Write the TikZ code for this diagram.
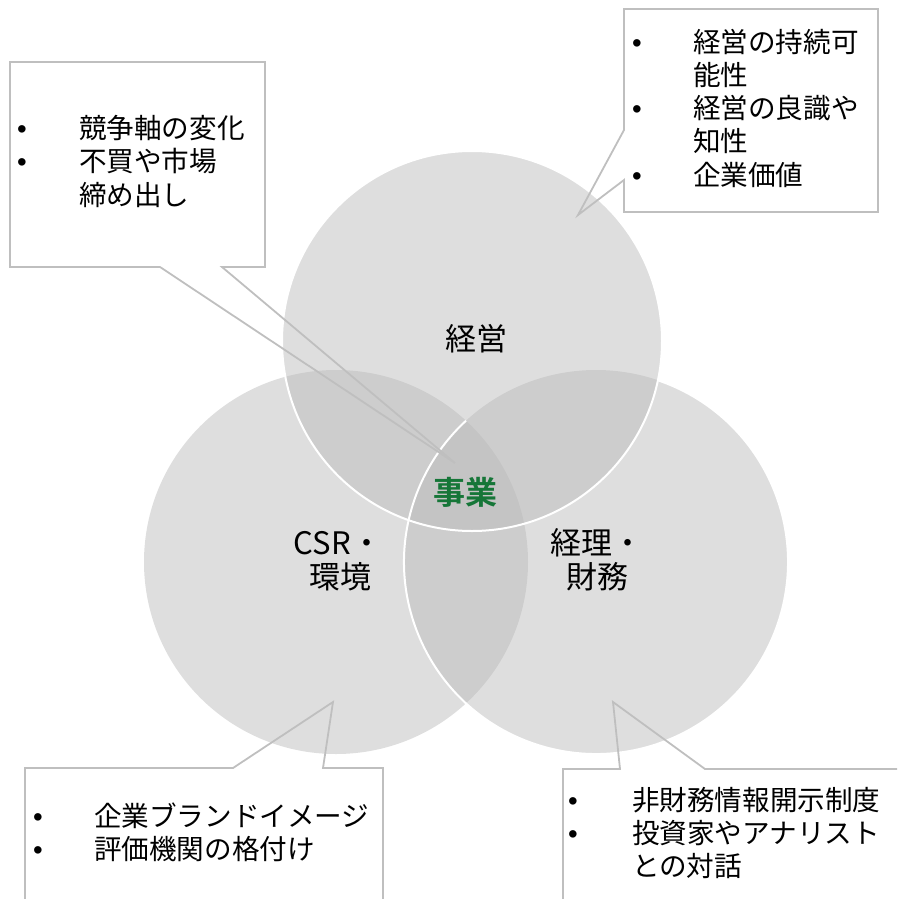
\documentclass[tikz,border=0pt]{standalone}
\usepackage{fontspec}
\setmainfont{Noto Sans CJK JP}[BoldFont=* Bold]
\newfontfamily\bulfont{Liberation Sans}
\definecolor{circfill}{RGB}{187,187,187}
\definecolor{calloutline}{RGB}{191,191,191}
\definecolor{bizgreen}{RGB}{22,118,56}
\begin{document}
\begin{tikzpicture}[x=1pt,y=-1pt,
  txt/.style={inner sep=0pt, outer sep=0pt, anchor=base west, font=\fontsize{27.6}{33}\selectfont},
  bul/.style={inner sep=0pt, outer sep=0pt, anchor=base, font=\bulfont\fontsize{27.6}{33}\selectfont},
  lbl/.style={inner sep=0pt, outer sep=0pt, anchor=base, font=\fontsize{31}{33}\selectfont},
  callout/.style={draw=calloutline, line width=1.8pt, line join=miter},
  circ/.style={fill=circfill, fill opacity=0.485},
  rim/.style={draw=white, line width=2pt}]
\useasboundingbox (0,0) rectangle (897,899);
\clip (0,0) rectangle (897,899);
% circles
\coordinate (cT) at (472,341);
\coordinate (cL) at (336,562);
\coordinate (cR) at (596,562);
\fill[circ] (cL) circle[radius=192];
\fill[circ] (cR) circle[radius=192];
\fill[circ] (cT) circle[radius=190];
\draw[rim] (cR) ++(288.8:192) arc[start angle=288.8, end angle=587.4, radius=192];
\draw[rim] (cT) circle[radius=190];
% circle labels
\node[lbl] (keiei) at (476,350.8) {経営};
\node[lbl] (csr1) at (338,554.8) {CSR・};
\node[lbl] (csr2) at (340,588.8) {環境};
\node[lbl] (keiri1) at (597,554.8) {経理・};
\node[lbl] (keiri2) at (597,588.8) {財務};
\node[lbl, font=\fontsize{32}{33}\selectfont\bfseries, text=bizgreen] (jigyo) at (465,504.7) {事業};
% callouts
\draw[callout] (10,62) -- (265,62) -- (265,267) -- (222,267) -- (455,463) -- (160,267) -- (10,267) -- cycle;
\draw[callout] (624,9) -- (878,9) -- (878,212) -- (624,212) -- (624,180) -- (578,215) -- (624,130) -- cycle;
\draw[callout] (25,910) -- (25,768) -- (233,768) -- (333,702) -- (323,768) -- (383,768) -- (383,910);
\draw[callout] (563,910) -- (563,769) -- (620,769) -- (613,702) -- (705,769) -- (910,769);
% top-left text
\node[bul] (tlb1) at (22,138.5) {•};
\node[txt] (tl1) at (79,138.5) {競争軸の変化};
\node[bul] (tlb2) at (22,171.8) {•};
\node[txt] (tl2) at (79,171.8) {不買や市場};
\node[txt] (tl3) at (79,205.1) {締め出し};
% top-right text
\node[bul] (trb1) at (637,52.5) {•};
\node[txt] (tr1) at (693,52.5) {経営の持続可};
\node[txt] (tr2) at (693,85.5) {能性};
\node[bul] (trb2) at (637,118.5) {•};
\node[txt] (tr3) at (693,118.5) {経営の良識や};
\node[txt] (tr4) at (693,151.5) {知性};
\node[bul] (trb3) at (637,185.5) {•};
\node[txt] (tr5) at (693,185.5) {企業価値};
% bottom-left text
\node[bul] (blb1) at (38,826) {•};
\node[txt] (bl1) at (94,826) {企業ブランドイメージ};
\node[bul] (blb2) at (38,859) {•};
\node[txt] (bl2) at (94,859) {評価機関の格付け};
% bottom-right text
\node[bul] (brb1) at (573,810.5) {•};
\node[txt] (br1) at (632,810.5) {非財務情報開示制度};
\node[bul] (brb2) at (573,843.5) {•};
\node[txt] (br2) at (632,843.5) {投資家やアナリスト};
\node[txt] (br3) at (632,876.5) {との対話};
\end{tikzpicture}
\end{document}
